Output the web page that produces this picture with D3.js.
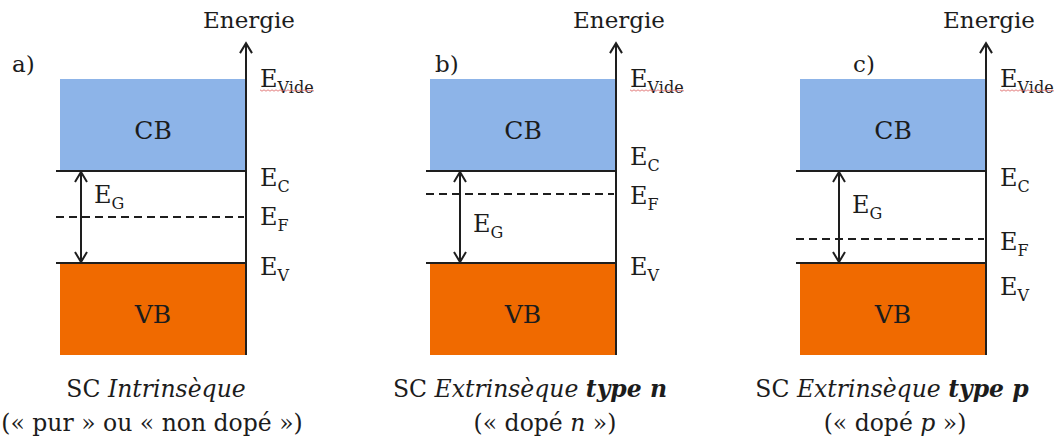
<!DOCTYPE html>
<html>
<head>
<meta charset="utf-8">
<script src="https://cdn.jsdelivr.net/npm/d3@7/dist/d3.min.js"></script>
<style>
  html, body { margin:0; padding:0; background:#fff; }
  svg { display:block; }
  text { font-family:'DejaVu Serif', serif; fill:#1c1c1c; }
</style>
</head>
<body>
<div id="chart"></div>
<script>
// band diagram data (energies in arbitrary units, E_V = 1, E_C = 2)
const panels      = ["a)", "b)", "c)"];
const bandNames   = ["CB", "VB"];
const levelE      = { vide: 3, c: 2, v: 1, bottom: 0, top: 3.39 };
const fermiLevels = [1.5, 1.75, 1.26];
const captionTop  = [
  [["SC ", "normal"], ["Intrinsèque", "italic"]],
  [["SC ", "normal"], ["Extrinsèque ", "italic"], ["type n", "bolditalic"]],
  [["SC ", "normal"], ["Extrinsèque ", "italic"], ["type p", "bolditalic"]]
];
const captionBottom = [
  [["(« pur » ou « non dopé »)", "normal"]],
  [["(« dopé ", "normal"], ["n", "italic"], [" »)", "normal"]],
  [["(« dopé ", "normal"], ["p", "italic"], [" »)", "normal"]]
];

// layout tweaks per panel (label nudges to avoid overlaps)
const layout = {
  tagDx:   [-48, 5, 53],
  gapDx:   [21, 30, 39],
  gapLblY: [203, 232, 213],
  ecDy:    [15, -6, 15],
  efDy:    [8, 10, 11],
  evDy:    [12, 12, 32],
  cap1Dx:  [3, 7, -1],
  cap2Dx:  [-1, 22, 2]
};

const W = 1060, H = 441;
const rectW = 186;
const svg = d3.select("#chart").append("svg").attr("width", W).attr("height", H);

const x = d3.scaleBand().domain(panels).range([60, 60 + 3 * 370]).paddingInner(0);
const y = d3.scaleLinear().domain([levelE.bottom, levelE.vide]).range([355, 79]);

const ink = "#1e1e1e";
const colors = { CB: "#8db4e8", VB: "#f06a00" };

function chevron(g, cx, cy, dir) {
  // open arrow head, dir = -1 points up, 1 points down
  g.append("path")
    .attr("d", `M${cx-6},${cy - dir*10} L${cx},${cy} L${cx+6},${cy - dir*10}`)
    .attr("fill", "none").attr("stroke", ink).attr("stroke-width", 2)
    .attr("stroke-linejoin", "miter");
}

function styled(sel, segs) {
  segs.forEach(([t, s]) => {
    sel.append("tspan")
      .style("font-style", s === "normal" ? "normal" : "italic")
      .style("font-weight", s === "bolditalic" ? "bold" : "normal")
      .text(t);
  });
}

panels.forEach((p, i) => {
  const g = svg.append("g");
  const x0 = x(p), ax = x0 + rectW, cx = x0 + rectW / 2;

  // bands
  g.append("rect").attr("x", x0).attr("y", y(levelE.vide))
    .attr("width", rectW).attr("height", y(levelE.c) - y(levelE.vide))
    .attr("fill", colors.CB);
  g.append("rect").attr("x", x0).attr("y", y(levelE.v))
    .attr("width", rectW).attr("height", y(levelE.bottom) - y(levelE.v))
    .attr("fill", colors.VB);

  g.append("text").attr("x", cx).attr("y", y((levelE.vide + levelE.c) / 2) + 14)
    .attr("text-anchor", "middle").style("font-size", "25px").text(bandNames[0]);
  g.append("text").attr("x", cx).attr("y", y((levelE.v + levelE.bottom) / 2) + 14)
    .attr("text-anchor", "middle").style("font-size", "25px").text(bandNames[1]);

  // band edges
  [levelE.c, levelE.v].forEach(e => {
    g.append("line").attr("x1", x0 - 4).attr("x2", ax).attr("y1", y(e)).attr("y2", y(e))
      .attr("stroke", ink).attr("stroke-width", 2.2);
  });

  // Fermi level
  g.append("line").attr("x1", x0 - 4).attr("x2", ax - 2)
    .attr("y1", y(fermiLevels[i])).attr("y2", y(fermiLevels[i]))
    .attr("stroke", ink).attr("stroke-width", 2).attr("stroke-dasharray", "8,5");

  // energy axis
  g.append("line").attr("x1", ax).attr("x2", ax)
    .attr("y1", y(levelE.bottom)).attr("y2", y(levelE.top))
    .attr("stroke", ink).attr("stroke-width", 2);
  chevron(g, ax, y(levelE.top), -1);
  g.append("text").attr("x", ax + 3).attr("y", 28)
    .attr("text-anchor", "middle").style("font-size", "23px").text("Energie");

  // gap arrow
  const gx = x0 + layout.gapDx[i];
  g.append("line").attr("x1", gx).attr("x2", gx)
    .attr("y1", y(levelE.c) + 1).attr("y2", y(levelE.v) - 1)
    .attr("stroke", ink).attr("stroke-width", 2);
  chevron(g, gx, y(levelE.c) + 1, -1);
  chevron(g, gx, y(levelE.v) - 1, 1);

  const sub = (tx, ty, main, s) => {
    const t = g.append("text").attr("x", tx).attr("y", ty).style("font-size", "24px");
    t.append("tspan").text(main);
    t.append("tspan").attr("dy", 6).style("font-size", "16px").text(s);
    return t;
  };
  sub(gx + 13, layout.gapLblY[i], "E", "G");

  // level labels
  const lx = ax + 14;
  sub(lx, y(levelE.vide) + 8, "E", "Vide");
  sub(lx, y(levelE.c) + layout.ecDy[i], "E", "C");
  sub(lx, y(fermiLevels[i]) + layout.efDy[i], "E", "F");
  sub(lx, y(levelE.v) + layout.evDy[i], "E", "V");

  // spell-check squiggle under "Vide"
  const sq = d3.range(0, 56, 2).map((d, k) => [lx + d, y(levelE.vide) + 11 + (k % 2 ? 1.2 : -0.2)]);
  g.append("path").attr("d", d3.line()(sq)).attr("fill", "none")
    .attr("stroke", "#e07070").attr("stroke-width", 0.9);

  // panel tag
  g.append("text").attr("x", x0 + layout.tagDx[i]).attr("y", 72)
    .style("font-size", "23px").text(p);

  // captions
  styled(g.append("text").attr("x", cx + layout.cap1Dx[i]).attr("y", 397)
    .attr("text-anchor", "middle").style("font-size", "23.5px"), captionTop[i]);
  styled(g.append("text").attr("x", cx + layout.cap2Dx[i]).attr("y", 431)
    .attr("text-anchor", "middle").style("font-size", "23.5px"), captionBottom[i]);
});
</script>
</body>
</html>
